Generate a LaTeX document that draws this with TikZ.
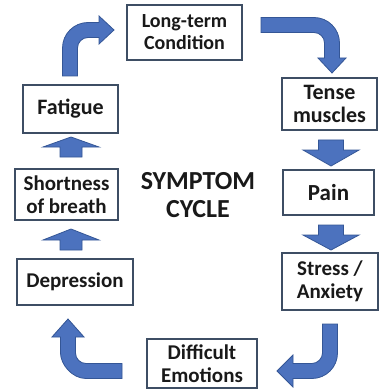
\documentclass[tikz,border=0pt]{standalone}
\usepackage{fontspec}
\setmainfont{Carlito}
\definecolor{boxline}{RGB}{62,78,100}
\definecolor{arrowfill}{RGB}{76,114,190}
\definecolor{arrowline}{RGB}{52,86,150}
\definecolor{txt}{RGB}{25,25,25}
\tikzset{
  box/.style={draw=boxline, line width=1.4pt, fill=white, rectangle, inner sep=0pt,
    align=center, text=txt, font=\bfseries\fontsize{21}{22.5}\selectfont},
  blockarrow/.style={fill=arrowfill, draw=arrowline, line width=0.8pt, line join=miter},
  titletext/.style={text=txt, align=center, font=\bfseries\fontsize{26}{28}\selectfont}
}
\begin{document}
\begin{tikzpicture}[x=1pt,y=-1pt]
\useasboundingbox[fill=white] (0,0) rectangle (382,390);

% boxes
\node[box, minimum width=115pt, minimum height=55pt, font=\bfseries\fontsize{20}{22}\selectfont] (lt) at (184.5,32.5) {Long-term\\Condition};
\node[box, minimum width=95pt, minimum height=48pt, font=\bfseries\fontsize{22}{24}\selectfont] (fat) at (70.5,109) {Fatigue};
\node[box, minimum width=95pt, minimum height=52pt, font=\bfseries\fontsize{22}{23}\selectfont] (tense) at (329.5,104) {Tense\\muscles};
\node[box, minimum width=103pt, minimum height=51pt] (sob) at (66.5,194.5) {Shortness\\of breath};
\node[box, minimum width=91pt, minimum height=45pt, font=\bfseries\fontsize{23}{25}\selectfont] (pain) at (328.5,192.5) {Pain};
\node[box, minimum width=96pt, minimum height=57pt] (stress) at (330,281.5) {Stress /\\Anxiety};
\node[box, minimum width=116pt, minimum height=46pt] (dep) at (75,282) {Depression};
\node[box, minimum width=110pt, minimum height=49pt] (diff) at (202,363.5) {Difficult\\Emotions};
\node[titletext] (title) at (198,195) {SYMPTOM\\CYCLE};

% bent arrow: Fatigue -> Long-term Condition
\draw[blockarrow] (62.5,76) -- (62.5,48) .. controls (62.5,33.92) and (73.92,22.5) .. (88,22.5)
  -- (99,22.5) -- (99,16) -- (114,30) -- (99,44) -- (99,37.5) -- (88,37.5)
  .. controls (82.2,37.5) and (77.5,42.2) .. (77.5,48) -- (77.5,76) -- cycle;

% bent arrow: Long-term Condition -> Tense muscles
\draw[blockarrow] (261,17.5) -- (314,17.5) .. controls (328.08,17.5) and (339.5,28.92) .. (339.5,43)
  -- (339.5,58) -- (346,58) -- (332,73) -- (318,58) -- (324.5,58) -- (324.5,43)
  .. controls (324.5,37.2) and (319.8,32.5) .. (314,32.5) -- (261,32.5) -- cycle;

% bent arrow: Stress -> Difficult Emotions
\draw[blockarrow] (337.5,324) -- (337.5,353) .. controls (337.5,367.08) and (326.08,378.5) .. (312,378.5)
  -- (293,378.5) -- (293,387) -- (277,371) -- (293,355) -- (293,363.5) -- (312,363.5)
  .. controls (317.8,363.5) and (322.5,358.2) .. (322.5,353) -- (322.5,324) -- cycle;

% bent arrow: Difficult Emotions -> Depression
\draw[blockarrow] (122,378.5) -- (86,378.5) .. controls (71.92,378.5) and (60.5,364.08) .. (60.5,353)
  -- (60.5,337) -- (52,337) -- (68,319) -- (84,337) -- (75.5,337) -- (75.5,353)
  .. controls (75.5,358.8) and (80.2,363.5) .. (86,363.5) -- (122,363.5) -- cycle;

% straight up arrows (left column)
\draw[blockarrow] (60,157) -- (60,147) -- (43,147) -- (71,137) -- (99,147) -- (82,147) -- (82,157) -- cycle;
\draw[blockarrow] (60,250) -- (60,240) -- (43,240) -- (71,229) -- (99,240) -- (82,240) -- (82,250) -- cycle;

% straight down arrows (right column)
\draw[blockarrow] (318.5,140) -- (318.5,150) -- (303,150) -- (331,166) -- (359,150) -- (343.5,150) -- (343.5,140) -- cycle;
\draw[blockarrow] (318.5,225) -- (318.5,235) -- (303,235) -- (331,250) -- (359,235) -- (343.5,235) -- (343.5,225) -- cycle;
\end{tikzpicture}
\end{document}
